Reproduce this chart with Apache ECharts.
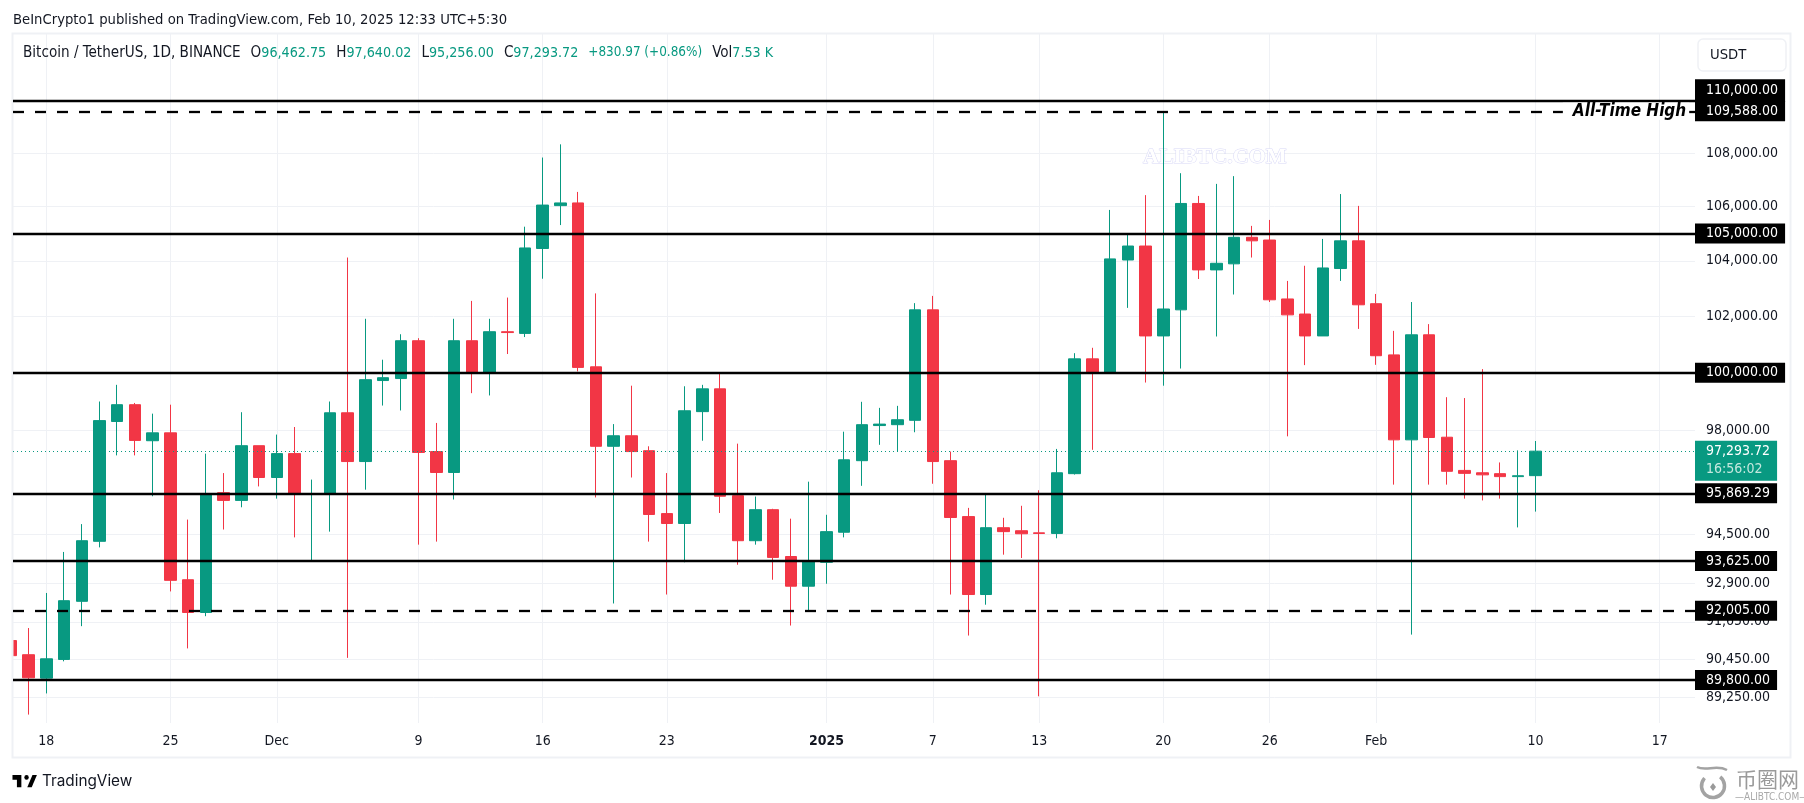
<!DOCTYPE html>
<html lang="en" style="height: 100%">
<head>
    <meta charset="utf-8">
    <title>Bitcoin / TetherUS</title>
    <style>
        html, body { margin: 0; padding: 0; background: #fff; }
        #container { width: 1804px; height: 803px; }
    </style>
</head>
<body>
<div id="container"></div>
<script src="https://cdn.jsdelivr.net/npm/echarts@6/dist/echarts.min.js"></script>
<script type="text/javascript">
    // day numbers count from 18 Nov 2024 = 0, first candle is 16 Nov
    var firstDay = -2;
    var opens = [91050,90600,89860,90450,92310,94270,98310,98890,97650,97920,93010,91950,95890,95630,97480,96400,97210,95830,95850,98610,96940,99730,99800,101130,97280,96570,101130,100020,101450,101390,104450,106030,106130,100210,97460,97820,97310,95190,94860,98650,99440,95790,94290,95320,93770,92800,93580,94570,96970,98170,98200,98350,102230,96970,95090,92530,94720,94620,94550,94530,96530,100490,100010,104030,104540,101300,102230,106110,103670,103890,104860,104760,102620,102080,101300,103720,104730,102450,100630,97680,101340,97770,96640,96560,96530,96430,96462.75];
    var closes = [90570,89870,90470,92330,94290,98340,98890,97660,97920,92990,91950,95860,95630,97480,96400,97210,95850,95860,98610,96940,99760,99830,101130,97250,96570,101130,100020,101450,101420,104470,106050,106130,100190,97460,97820,97280,95160,94860,98680,99440,95770,94290,95320,93740,92800,93610,94590,97000,98200,98220,98370,102230,96940,95060,92530,94720,94590,94520,94530,96560,100490,100010,104070,104540,101300,102260,106110,103670,103910,104860,104730,102590,102050,101300,103740,104730,102410,100600,97680,101340,97760,96610,96540,96490,96430,96460,97293.72];
    var lows = [90570,88720,89380,90390,91510,94070,97150,97150,95770,92630,90800,91830,94660,95400,96100,95690,94400,93640,94590,90500,95990,98860,98690,94160,94260,95660,99290,99210,100660,101260,103350,105310,100050,95730,92240,96400,94260,92530,93580,97650,95210,93500,94160,93010,91530,92010,92880,94400,96120,97510,97280,97940,96190,92530,91210,92200,93830,93720,89290,94370,96500,97340,100000,102300,99660,99550,100150,103340,101280,102780,104120,102510,97800,100270,101300,103270,101550,100280,96160,91240,96160,96160,95690,95630,95690,94730,95256];
    var highs = [91050,91450,92580,93920,94840,99000,99580,98950,98580,98890,94990,97210,96550,98630,97480,97860,98120,96330,99000,104120,101910,100460,101360,101220,98260,101910,102550,101910,102670,105250,107830,108330,106540,102820,98220,99550,97460,96550,99530,99580,99990,97550,95760,95350,95020,96260,95150,97960,98990,98780,98850,102470,102730,97280,95380,95850,95050,95450,95970,97370,100690,100880,105870,104990,106420,109588,107240,106390,106840,107130,105280,105500,103270,103820,104800,106460,106020,102800,101480,102510,101720,99150,99120,100130,96910,97320,97640.02];

    var tickDays = [0,7,13,21,28,35,44,50,56,63,69,75,84,91];
    var tickLabels = ['18','25','Dec','9','16','23','2025','7','13','20','26','Feb','10','17'];
    var priceTicks = [108000,106000,104000,102000,98000,94500,92900,91650,90450,89250];
    var solidLevels = [110000,105000,100000,95869.29,93625,89800];
    var dashedLevels = [109588,92005];
    var lastPrice = 97293.72;
    var lastPriceTimer = '16:56:02';
    var athLabel = 'All-Time High';

    var upColor = '#089981';
    var downColor = '#f23645';
    var textColor = '#131722';
    var gridColor = '#eff1f5';
    var uiFont = '"DejaVu Sans Condensed", "DejaVu Sans", sans-serif';

    function money(v) {
        return v.toLocaleString('en-US', {minimumFractionDigits: 2, maximumFractionDigits: 2});
    }

    var candles = opens.map(function (o, i) {
        return [firstDay + i, o, closes[i], lows[i], highs[i]];
    });

    function levelLine(v, dashed) {
        var top = v === 110000;
        return {
            yAxis: v,
            lineStyle: {color: '#000', width: 2.3, type: dashed ? [11, 11] : 'solid'},
            label: {
                show: true,
                position: 'end',
                distance: 0,
                formatter: money(v),
                color: '#fff',
                backgroundColor: '#000',
                fontFamily: uiFont,
                fontSize: 14,
                lineHeight: 14,
                padding: top ? [3, 7, 6, 11] : [3, 7, 3, 11],
                align: 'left',
                verticalAlign: 'middle',
                // 110,000 gets pushed up by the 109,588 tag in the original
                offset: top ? [0, -10] : [0, 0]
            }
        };
    }

    var lines = solidLevels.map(function (v) { return levelLine(v, false); })
        .concat(dashedLevels.map(function (v) { return levelLine(v, true); }));
    lines.push({
        yAxis: lastPrice,
        lineStyle: {color: upColor, width: 1, type: [1, 3]},
        label: {
            show: true,
            position: 'end',
            distance: 0,
            formatter: '{p|' + money(lastPrice) + '}\n{t|' + lastPriceTimer + '}',
            backgroundColor: upColor,
            padding: [2, 7, 2, 11],
            align: 'left',
            verticalAlign: 'middle',
            offset: [0, 9.5],
            rich: {
                p: {color: '#fff', fontFamily: uiFont, fontSize: 14, lineHeight: 18},
                t: {color: '#c4e8de', fontFamily: uiFont, fontSize: 14, lineHeight: 18}
            }
        }
    });

    var myChart = echarts.init(document.getElementById('container'), null, {renderer: 'canvas'});

    var option = {
        animation: false,
        backgroundColor: '#fff',
        title: [
            {
                text: 'BeInCrypto1 published on TradingView.com, Feb 10, 2025 12:33 UTC+5:30',
                left: 13, top: 11, padding: 0,
                textStyle: {color: textColor, fontFamily: uiFont, fontSize: 14.7, fontWeight: 'normal', lineHeight: 18}
            },
            {
                text: '{n|Bitcoin / TetherUS, 1D, BINANCE}  {n|O}{v|96,462.75}  {n|H}{v|97,640.02}  {n|L}{v|95,256.00}  {n|C}{v|97,293.72}  {w|+830.97 (+0.86%)}  {n|Vol}{v|7.53 K}',
                left: 23, top: 44, padding: 0,
                textStyle: {
                    fontWeight: 'normal',
                    rich: {
                        n: {color: textColor, fontFamily: uiFont, fontSize: 15.1, fontWeight: 'normal', lineHeight: 18},
                        v: {color: upColor, fontFamily: uiFont, fontSize: 14.2, fontWeight: 'normal', lineHeight: 18},
                        w: {color: upColor, fontFamily: uiFont, fontSize: 13.4, fontWeight: 'normal', lineHeight: 18}
                    }
                }
            },
            {
                text: 'TradingView',
                left: 42, top: 772, padding: 0,
                textStyle: {color: textColor, fontFamily: 'Inter, sans-serif', fontSize: 15.3, fontWeight: 'normal', lineHeight: 18}
            }
        ],
        grid: {left: 13, right: 109, top: 33, bottom: 80},
        xAxis: {
            type: 'value',
            min: -1.878,
            max: 92.99,
            axisLine: {show: false},
            axisTick: {show: false, customValues: tickDays},
            splitLine: {show: true, lineStyle: {color: gridColor, width: 1}},
            axisLabel: {
                customValues: tickDays,
                color: textColor,
                fontFamily: uiFont,
                fontSize: 14,
                margin: 11,
                formatter: function (v) {
                    var s = tickLabels[tickDays.indexOf(v)];
                    return s === '2025' ? '{b|' + s + '}' : s;
                },
                rich: {b: {fontWeight: 'bold', color: textColor, fontFamily: uiFont, fontSize: 14}}
            }
        },
        yAxis: {
            type: 'log',
            position: 'right',
            min: 88459,
            max: 112637,
            axisLine: {show: false},
            axisTick: {show: false, customValues: priceTicks},
            splitLine: {show: true, lineStyle: {color: gridColor, width: 1}},
            axisLabel: {
                customValues: priceTicks,
                color: textColor,
                fontFamily: uiFont,
                fontSize: 14,
                margin: 11,
                formatter: function (v) { return money(v); }
            }
        },
        series: [{
            type: 'candlestick',
            data: candles,
            encode: {x: 0, y: [1, 2, 3, 4]},
            barWidth: 12,
            itemStyle: {
                color: upColor,
                color0: downColor,
                borderColor: upColor,
                borderColor0: downColor,
                borderWidth: 1
            },
            markLine: {
                silent: true,
                symbol: 'none',
                animation: false,
                precision: 2,
                data: lines
            },
            markPoint: {
                silent: true,
                animation: false,
                z: 6,
                data: [{
                    coord: [89.1, dashedLevels[0]],
                    value: 0,
                    symbol: 'circle',
                    symbolSize: 1,
                    itemStyle: {color: 'transparent'},
                    label: {
                        show: true,
                        position: 'inside',
                        formatter: athLabel,
                        color: '#000',
                        backgroundColor: '#fff',
                        fontFamily: uiFont,
                        fontSize: 17,
                        lineHeight: 17,
                        fontStyle: 'italic',
                        fontWeight: 'bold',
                        padding: [0, 3, 0, 10]
                    }
                }]
            }
        }],
        graphic: [
            // candles are only dropped when fully outside the grid, so hide the cut-off one by hand
            {type: 'rect', z: 3, shape: {x: 0, y: 30, width: 13, height: 700}, style: {fill: '#fff'}},
            // panel outline
            {type: 'rect', z: 4, shape: {x: 12.5, y: 33.5, width: 1778, height: 724}, style: {fill: 'none', stroke: gridColor, lineWidth: 2}},
            // currency button
            {type: 'rect', z: 10, shape: {x: 1698, y: 39, width: 88, height: 32, r: 5}, style: {fill: '#fff', stroke: gridColor, lineWidth: 1.5}},
            {type: 'text', z: 11, style: {x: 1710, y: 55, text: 'USDT', fill: textColor, font: '14.7px ' + uiFont, verticalAlign: 'middle'}},
            // site watermark
            {type: 'text', z: 1, style: {x: 1143, y: 157, text: 'ALIBTC.COM', fill: '#fff', stroke: '#d8d8f6', lineWidth: 1, font: 'bold 22px "Liberation Serif", serif', verticalAlign: 'middle'}},
            // TradingView logo
            {type: 'group', z: 5, x: 11, y: 770, scaleX: 0.74, scaleY: 0.82, children: [
                {type: 'polygon', shape: {points: [[2, 6], [14, 6], [14, 21], [8, 21], [8, 12], [2, 12]]}, style: {fill: '#000'}},
                {type: 'polygon', shape: {points: [[22, 21], [29, 6], [35, 6], [28, 21]]}, style: {fill: '#000'}},
                {type: 'circle', shape: {cx: 21, cy: 9, r: 3}, style: {fill: '#000'}}
            ]},
            // corner logo
            {type: 'arc', z: 5, shape: {cx: 1713, cy: 786, r: 11.5, startAngle: -0.9, endAngle: 3.9}, style: {fill: 'none', stroke: '#a3a3a3', lineWidth: 3.5}},
            {type: 'bezierCurve', z: 5, shape: {x1: 1697, y1: 767, cpx1: 1706, cpy1: 772, cpx2: 1716, cpy2: 764, x2: 1727, y2: 770}, style: {fill: 'none', stroke: '#a3a3a3', lineWidth: 2.5}},
            {type: 'polygon', z: 5, shape: {points: [[1713, 783], [1716, 787], [1713, 791], [1710, 787]]}, style: {fill: '#9a9a9a'}},
            {type: 'text', z: 5, style: {x: 1736, y: 779, text: '币圈网', fill: '#9a9a9a', font: '21px "Noto Sans CJK SC", sans-serif', verticalAlign: 'middle'}},
            {type: 'text', z: 5, style: {x: 1735, y: 797, text: '—ALIBTC.COM—', fill: '#a9a9a9', font: '10px "DejaVu Sans Condensed", sans-serif', verticalAlign: 'middle'}}
        ]
    };
    myChart.setOption(option);
    window.addEventListener('resize', myChart.resize);
</script>
</body>
</html>
